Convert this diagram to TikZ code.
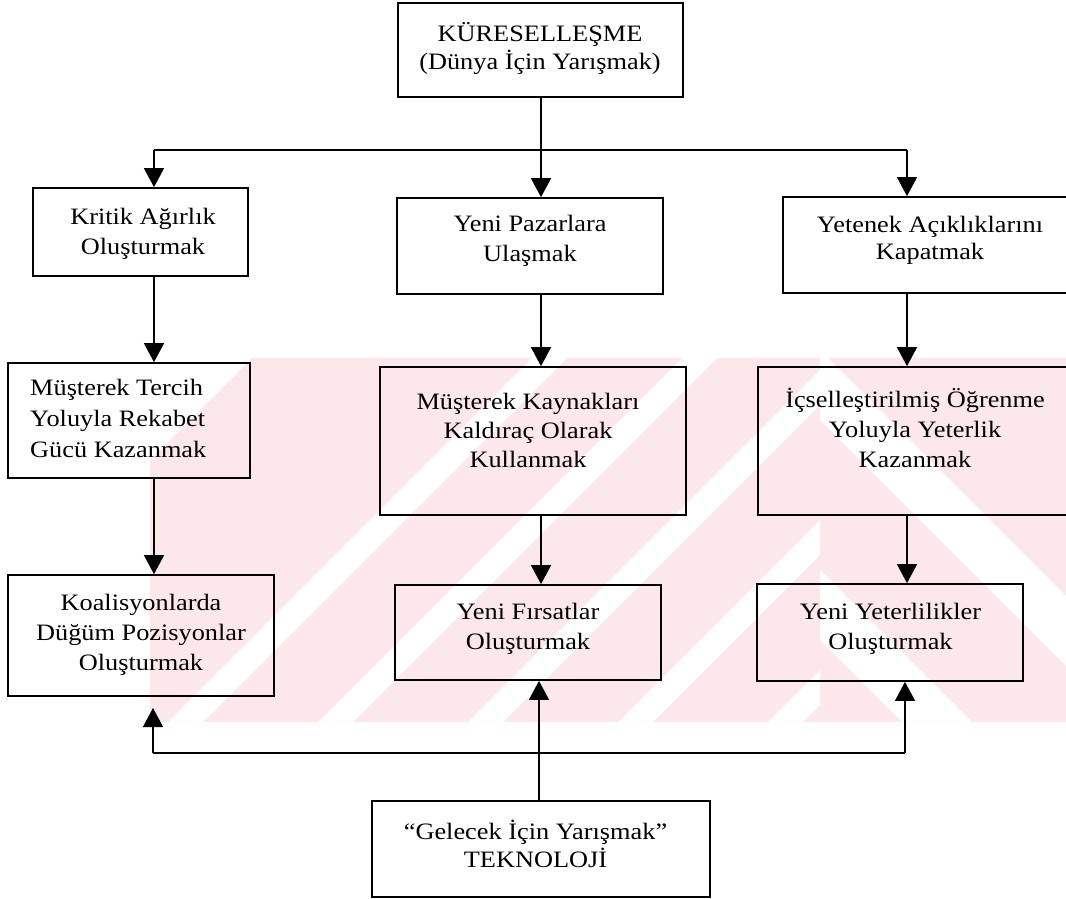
\documentclass[tikz,border=0pt]{standalone}
\usepackage{fontspec}
\setmainfont{Liberation Serif}[FakeStretch=1.12]
\usetikzlibrary{arrows.meta,calc}
\definecolor{wm}{RGB}{252,231,235}
\begin{document}
\begin{tikzpicture}[x=1pt,y=-1pt,
  box/.style={draw, line width=1.7pt, inner sep=0pt},
  txt/.style={align=center, inner sep=0pt, font=\fontsize{23.5}{30}\selectfont},
  ltxt/.style={align=left, inner sep=0pt, font=\fontsize{23.5}{31}\selectfont},
  link/.style={line width=1.6pt},
  arr/.style={line width=1.4pt, -{Triangle[length=19pt,width=20pt]}},
]
\useasboundingbox (0,0) rectangle (1066,899);

% faint watermark of the scan
\begin{scope}
  \clip (150,358) rectangle (1066,722);
  \fill[wm] (252,358) -- (1066,358) -- (1066,722) -- (150,722) -- (150,460) -- cycle;
  \begin{scope}
    \clip (150,358) rectangle (820,722);
    \foreach \u in {890,1040,1190,1340,1490} {
      \fill[white] (\u-358,358) -- (\u+35-358,358) -- (\u+35-722,722) -- (\u-722,722) -- cycle;
    }
  \end{scope}
  \begin{scope}
    \clip (820,358) rectangle (1066,722);
    \foreach \v in {180,400} {
      \fill[white] (\v+358,358) -- (\v+70+358,358) -- (\v+70+722,722) -- (\v+722,722) -- cycle;
    }
  \end{scope}
\end{scope}

% boxes
\node[box, minimum width=285pt, minimum height=94pt] (top) at (540.5,50) {};
\node[box, minimum width=215pt, minimum height=88pt] (l1) at (140.5,232) {};
\node[box, minimum width=266pt, minimum height=96pt] (m1) at (530,246) {};
\node[box, minimum width=287pt, minimum height=96pt] (r1) at (926.5,245) {};
\node[box, minimum width=242pt, minimum height=115pt] (l2) at (129,420.5) {};
\node[box, minimum width=306pt, minimum height=148pt] (m2) at (533,441) {};
\node[box, minimum width=312pt, minimum height=148pt] (r2) at (914,441) {};
\node[box, minimum width=266pt, minimum height=121pt] (l3) at (141,635.5) {};
\node[box, minimum width=266pt, minimum height=95pt] (m3) at (528,632.5) {};
\node[box, minimum width=266pt, minimum height=97pt] (r3) at (890,632.5) {};
\node[box, minimum width=338pt, minimum height=96pt] (bot) at (541,849) {};

% texts
\node[txt, font=\fontsize{23.5}{28}\selectfont] (topt) at (540,48.5) {KÜRESELLEŞME\\(Dünya İçin Yarışmak)};
\node[txt] (l1t) at (143,233.5) {Kritik Ağırlık\\Oluşturmak};
\node[txt] (m1t) at (530,241) {Yeni Pazarlara\\Ulaşmak};
\node[txt, font=\fontsize{23.5}{27}\selectfont] (r1t) at (930,240) {Yetenek Açıklıklarını\\Kapatmak};
\node[ltxt, anchor=west] (l2t) at (30,418) {Müşterek Tercih\\Yoluyla Rekabet\\Gücü Kazanmak};
\node[txt, font=\fontsize{23.5}{29}\selectfont] (m2t) at (528,430.5) {Müşterek Kaynakları\\Kaldıraç Olarak\\Kullanmak};
\node[txt] (r2t) at (915,427.5) {İçselleştirilmiş Öğrenme\\Yoluyla Yeterlik\\Kazanmak};
\node[txt] (l3t) at (141,634.5) {Koalisyonlarda\\Düğüm Pozisyonlar\\Oluşturmak};
\node[txt] (m3t) at (528,629) {Yeni Fırsatlar\\Oluşturmak};
\node[txt] (r3t) at (890.5,629) {Yeni Yeterlilikler\\Oluşturmak};
\node[txt, font=\fontsize{23.5}{28}\selectfont] (bott) at (535.5,843.5) {“Gelecek İçin Yarışmak”\\TEKNOLOJİ};

% connector coordinates
\coordinate (hub) at (541,150);
\coordinate (cl) at (154,150);
\coordinate (cr) at (907,150);
\coordinate (lowhub) at (539,753);
\coordinate (lowl) at (153,753);
\coordinate (lowr) at (905,753);
\coordinate (lowltip) at (153,708);

% top distribution
\draw[arr] (top.south -| hub) -- (m1.north -| hub);
\draw[link] (cl) -- (cr);
\draw[arr] (cl) -- (l1.north -| cl);
\draw[arr] (cr) -- (r1.north -| cr);

% columns
\draw[arr] (l1.south -| cl) -- (l2.north -| cl);
\draw[arr] (l2.south -| cl) -- (l3.north -| cl);
\draw[arr] (m1.south -| hub) -- (m2.north -| hub);
\draw[arr] (m2.south -| hub) -- (m3.north -| hub);
\draw[arr] (r1.south -| cr) -- (r2.north -| cr);
\draw[arr] (r2.south -| cr) -- (r3.north -| cr);

% bottom feedback
\draw[arr] (bot.north -| lowhub) -- (m3.south -| lowhub);
\draw[link] (lowl) -- (lowr);
\draw[arr] (lowl) -- (lowltip);
\draw[arr] (lowr) -- (r3.south -| lowr);
\end{tikzpicture}
\end{document}
